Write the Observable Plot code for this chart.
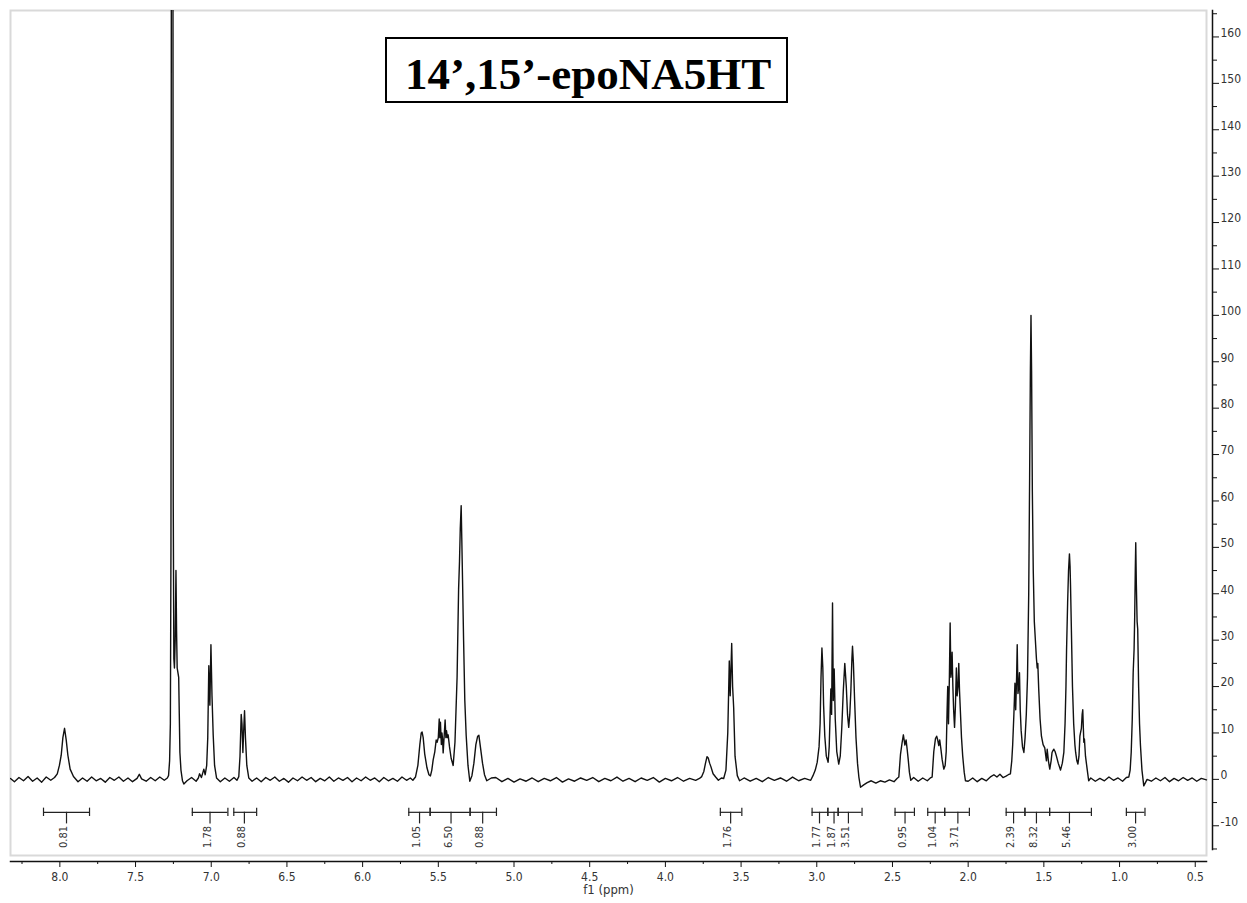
<!DOCTYPE html>
<html><head><meta charset="utf-8">
<script src="https://cdn.jsdelivr.net/npm/d3@7"></script>
<script src="https://cdn.jsdelivr.net/npm/@observablehq/plot@0.6"></script>
<style>
html,body{margin:0;padding:0;background:#fff;}
#wrap{position:relative;width:1247px;height:903px;overflow:hidden;background:#fff;}
#title{position:absolute;left:385px;top:37px;width:399px;height:62px;border:2px solid #000;background:#fff;font-family:"Liberation Serif","Times New Roman",serif;font-weight:bold;font-size:45px;color:#000;}
#title span{position:absolute;left:18px;top:13px;line-height:45px;white-space:nowrap;}
</style></head>
<body><div id="wrap"><div id="chart"></div><div id="title"><span>14’,15’-epoNA5HT</span></div></div>
<script>
// ---- spectrum trace: [ppm, intensity] ----
const segNH = [
[8.326,0.2],[8.30,-0.5],[8.27,0.4],[8.24,-0.3],[8.21,0.6],[8.18,-0.4],[8.15,0.3],[8.12,-0.6],[8.09,0.5],[8.06,-0.2],[8.035,0.4],
[8.017,1.2],[8.003,3],[7.991,5.2],[7.980,9],[7.969,11],[7.958,8.5],[7.947,5.2],[7.932,2.2],[7.910,0.6],
[7.88,-0.5],[7.85,0.3],[7.82,-0.4],[7.79,0.5],[7.76,-0.3],[7.73,0.2],[7.70,-0.6],[7.67,0.4],[7.64,-0.2],[7.61,0.5],[7.58,-0.4],[7.55,0.3],[7.52,-0.5],[7.49,0.2],[7.475,1.1],[7.46,0.1],[7.43,-0.4],[7.40,0.4],[7.37,-0.3],[7.34,0.5],[7.31,-0.2],[7.29,0.3]
];
const segAromatic = [
[7.282,0.8],[7.275,4],[7.270,12],[7.266,50],[7.262,250],[7.258,400],[7.254,250],[7.251,60],[7.247,26],[7.243,24],[7.238,30],[7.233,45],[7.229,32],[7.225,24],[7.220,23],[7.215,22],[7.211,14],[7.207,5.8],[7.200,2],[7.190,-0.3],[7.181,-1],
[7.16,-0.3],[7.13,0.4],[7.10,-0.4],[7.085,0.3],[7.077,1.2],[7.065,0.4],[7.055,1.5],[7.049,2.2],[7.040,1.0],[7.030,3],[7.023,9],[7.016,24.5],[7.009,16],[7.002,29],[6.995,18],[6.987,9.5],[6.978,3],[6.965,0.3],
[6.94,-0.5],[6.91,0.3],[6.88,-0.4],[6.85,0.4],[6.83,-0.2],[6.818,0.6],[6.810,5],[6.802,14],[6.797,12],[6.791,5.8],[6.785,11],[6.780,14.8],[6.774,9],[6.765,3],[6.752,0.3]
];
const segBase1 = [
[6.73,-0.4],[6.70,0.3],[6.67,-0.5],[6.64,0.4],[6.61,-0.2],[6.58,0.5],[6.55,-0.4],[6.52,0.2],[6.49,-0.6],[6.46,0.3],[6.43,-0.3],[6.40,0.5],[6.37,-0.2],[6.34,0.4],[6.31,-0.5],[6.28,0.2],[6.25,-0.3],[6.22,0.5],[6.19,-0.4],[6.16,0.3],[6.13,-0.2],[6.10,0.4],[6.07,-0.5],[6.04,0.3],[6.01,-0.3],[5.98,0.5],[5.95,-0.2],[5.92,0.3],[5.89,-0.5],[5.86,0.4],[5.83,-0.3],[5.80,0.2],[5.77,-0.4],[5.74,0.5],[5.71,-0.2],[5.685,0.3]
];
const segOlefin = [
[5.668,-0.2],[5.651,0.5],[5.635,3],[5.622,7.5],[5.613,10],[5.607,10.2],[5.600,9],[5.590,5.5],[5.575,2.5],[5.562,1],[5.552,0.75],[5.543,2],[5.534,4.2],[5.523,6],[5.514,8.5],[5.508,8],[5.500,9],[5.494,13],[5.490,9],[5.486,12.3],[5.480,7.5],[5.476,10],[5.472,8.7],[5.468,5.7],[5.461,9.5],[5.455,12.8],[5.450,9],[5.446,10.5],[5.440,9],[5.435,9.6],[5.426,7],[5.415,4.5],[5.402,3.0],[5.390,8],[5.376,22],[5.366,41],[5.360,47],[5.355,54],[5.349,59],[5.345,52],[5.340,43],[5.333,30],[5.325,17],[5.316,9.5],[5.304,3],[5.292,-0.4],[5.278,0.8],[5.265,3.5],[5.252,7.5],[5.240,9.3],[5.232,9.5],[5.222,7],[5.208,3.5],[5.195,1],[5.180,-0.3],[5.15,0.3]
];
const segBase2 = [
[5.12,0.4],[5.08,-0.5],[5.04,0.2],[5.00,-0.6],[4.96,0.1],[4.92,-0.4],[4.88,0.3],[4.84,-0.5],[4.80,0.2],[4.76,-0.3],[4.72,0.4],[4.68,-0.6],[4.64,0.1],[4.60,-0.4],[4.56,0.3],[4.52,-0.2],[4.48,0.4],[4.44,-0.5],[4.40,0.2],[4.36,-0.3],[4.32,0.5],[4.28,-0.4],[4.24,0.2],[4.20,-0.5],[4.16,0.3],[4.12,-0.2],[4.08,0.4],[4.04,-0.6],[4.00,0.2],[3.96,-0.3],[3.92,0.4],[3.88,-0.4],[3.84,0.2],[3.80,-0.2]
];
const segAmide = [
[3.775,0.2],[3.760,0.6],[3.746,1.7],[3.735,3.5],[3.725,4.9],[3.717,4.6],[3.708,3.5],[3.700,2.8],[3.685,1.2],[3.668,0.5],[3.650,-0.2],[3.630,0.3],[3.615,0.2],[3.600,2],[3.588,10],[3.578,25.5],[3.572,18],[3.562,29.3],[3.556,20],[3.549,15.5],[3.540,5],[3.525,0.8],[3.51,-0.3],
[3.48,0.3],[3.44,-0.4],[3.40,0.2],[3.36,-0.5],[3.32,0.4],[3.28,-0.2],[3.24,0.3],[3.20,-0.4],[3.16,0.5],[3.12,-0.3],[3.08,0.2],[3.04,-0.2]
];
const segBisallyl = [
[3.025,0.8],[3.010,2],[2.997,3.7],[2.985,7],[2.978,12],[2.972,22],[2.966,28.3],[2.960,24],[2.955,16],[2.947,9.3],[2.937,5],[2.925,3.7],[2.918,7],[2.912,14],[2.907,19.5],[2.902,14],[2.896,38],[2.891,17],[2.885,23.8],[2.878,13],[2.868,6],[2.855,3.3],[2.845,5],[2.835,11],[2.825,19],[2.815,25],[2.805,20],[2.797,14],[2.789,11.2],[2.782,14],[2.775,19],[2.768,26],[2.764,28.7],[2.758,25],[2.750,17],[2.741,9],[2.731,3.5],[2.722,0.5],[2.711,-1.7],[2.690,-1.2],[2.667,-0.7],
[2.64,-0.3],[2.61,-0.8],[2.58,-0.3],[2.55,-0.6],[2.52,-0.1],[2.49,-0.5],[2.47,0.2],[2.458,0.5],[2.447,5.4],[2.436,8],[2.428,9.6],[2.423,8.5],[2.418,7.4],[2.410,8.5],[2.403,6.5],[2.396,4.3],[2.388,1.5],[2.379,-0.2],
[2.36,0.4],[2.33,-0.4],[2.30,0.3],[2.27,-0.3],[2.25,0.3]
];
const segAllylic = [
[2.238,0.5],[2.227,6],[2.216,8.8],[2.208,9.3],[2.202,8.6],[2.194,7.3],[2.188,8.5],[2.180,6.5],[2.172,4.3],[2.161,2.2],[2.152,3],[2.145,6],[2.139,15],[2.135,20],[2.130,12],[2.124,22],[2.119,33.7],[2.114,22],[2.109,24],[2.106,27.4],[2.101,20],[2.096,15],[2.090,11.2],[2.084,16],[2.078,24],[2.073,18],[2.067,20],[2.062,25],[2.057,19],[2.051,14.4],[2.044,9],[2.036,5],[2.026,1.5],[2.018,-0.3],
[2.00,-0.4],[1.97,0.3],[1.94,-0.5],[1.91,0.2],[1.88,-0.3],[1.85,0.6],[1.83,1.0],[1.81,0.5],[1.79,1.1],[1.77,0.4],[1.75,0.7],[1.735,1.0]
];
const segAliphatic = [
[1.721,1.2],[1.712,4],[1.706,7.4],[1.698,14],[1.691,20.7],[1.686,15],[1.680,22],[1.676,29],[1.671,18.5],[1.666,20],[1.661,23],[1.656,15],[1.650,10.5],[1.641,7],[1.632,5.8],[1.624,9],[1.616,14],[1.608,22],[1.600,40],[1.594,65],[1.589,88],[1.585,100],[1.581,88],[1.576,62],[1.570,45],[1.563,34],[1.556,30],[1.549,26],[1.544,24],[1.540,25],[1.534,19.5],[1.525,13],[1.516,9.3],[1.505,7.5],[1.494,6.8],[1.487,5],[1.483,4],[1.478,6.5],[1.470,4],[1.461,2.2],[1.452,4],[1.446,5.8],[1.440,6.2],[1.434,6.5],[1.426,6],[1.417,5],[1.405,3.5],[1.390,2],[1.378,3.5],[1.368,5.8],[1.360,12],[1.354,20],[1.350,28],[1.343,38],[1.337,45],[1.331,48.6],[1.327,46],[1.324,42],[1.318,32],[1.311,20],[1.303,12],[1.295,7.5],[1.290,5.8],[1.282,4],[1.275,3.3],[1.268,5],[1.262,9.3],[1.258,10],[1.252,11],[1.247,14],[1.243,15],[1.239,11],[1.236,8],[1.232,8.7],[1.225,5],[1.214,2.2],[1.204,-0.3]
];
const segMethyl = [
[1.19,0.3],[1.16,-0.4],[1.13,0.2],[1.10,-0.3],[1.07,0.5],[1.04,-0.2],[1.01,0.3],[0.98,-0.4],[0.955,0.4],[0.939,0.5],[0.930,2],[0.923,5.8],[0.916,13],[0.910,23],[0.904,28],[0.900,35],[0.896,45],[0.893,51],[0.889,42],[0.884,34],[0.880,32.4],[0.874,20],[0.868,12],[0.862,7.4],[0.852,2],[0.840,-1.4],[0.818,0],
[0.79,-0.4],[0.76,0.3],[0.73,-0.3],[0.70,0.4],[0.67,-0.5],[0.64,0.2],[0.61,-0.3],[0.58,0.4],[0.55,-0.2],[0.52,0.3],[0.49,-0.4],[0.46,0.2],[0.426,-0.1]
];

// ---- integrals ----
const intFrom  = [8.108, 7.125, 6.851, 5.695, 5.554, 5.290, 3.637, 3.031, 2.927, 2.859, 2.483, 2.267, 2.155, 1.749, 1.625, 1.462, 0.955];
const intTo    = [7.804, 6.890, 6.700, 5.554, 5.290, 5.116, 3.495, 2.927, 2.859, 2.701, 2.355, 2.155, 1.992, 1.625, 1.462, 1.186, 0.832];
const intMark  = [7.956, 7.008, 6.781, 5.624, 5.416, 5.207, 3.569, 2.982, 2.886, 2.791, 2.417, 2.218, 2.068, 1.700, 1.549, 1.331, 0.894];
const intLabel = ["0.81","1.78","0.88","1.05","6.50","0.88","1.76","1.77","1.87","3.51","0.95","1.04","3.71","2.39","8.32","5.46","3.00"];

// ---- axis ticks ----
const xMajor = [8.0,7.5,7.0,6.5,6.0,5.5,5.0,4.5,4.0,3.5,3.0,2.5,2.0,1.5,1.0,0.5];
const xMinor = [8.25,7.75,7.25,6.75,6.25,5.75,5.25,4.75,4.25,3.75,3.25,2.75,2.25,1.75,1.25,0.75];
const yMajor = [160,150,140,130,120,110,100,90,80,70,60,50,40,30,20,10,0,-10];
const yMinor = [165,155,145,135,125,115,105,95,85,75,65,55,45,35,25,15,5,-5,-15];

const spectrum = [].concat(segNH, segAromatic, segBase1, segOlefin, segBase2, segAmide, segBisallyl, segAllylic, segAliphatic, segMethyl)
  .map(([ppm, v]) => ({ppm, v}));
const integrals = intFrom.map((f, i) => ({from: f, to: intTo[i], mark: intMark[i], label: intLabel[i]}));
const caps = integrals.flatMap(d => [d.from, d.to]);

// layout constants (data units on the intensity scale)
const BR = -7.1, CAP_T = -6.2, CAP_B = -8.0, MARK_B = -9.6, LAB = -12.4;
const font = "'DejaVu Sans Condensed','DejaVu Sans',sans-serif";

const chart = Plot.plot({
  width: 1247, height: 903,
  marginLeft: 10, marginRight: 35, marginTop: 10, marginBottom: 42,
  x: {domain: [8.326, 0.386]},
  y: {domain: [-17.7, 165.7]},
  style: {fontFamily: font, fontSize: "12px", color: "#222", background: "#fff"},
  marks: [
    Plot.frame({stroke: "#d9d9d9", strokeWidth: 2, insetRight: 6, insetBottom: 6}),
    Plot.line(spectrum, {x: "ppm", y: "v", stroke: "#111", strokeWidth: 1.4, clip: true}),
    Plot.ruleY(integrals, {x1: "from", x2: "to", y: () => BR, stroke: "#222", strokeWidth: 1.2}),
    Plot.ruleX(caps, {x: d => d, y1: () => CAP_T, y2: () => CAP_B, stroke: "#222", strokeWidth: 1.2}),
    Plot.ruleX(integrals, {x: "mark", y1: () => BR, y2: () => MARK_B, stroke: "#222", strokeWidth: 1.2}),
    Plot.text(integrals, {x: "mark", y: () => LAB, dx: -3, text: "label", rotate: -90, fontSize: 11, fill: "#333"}),
    Plot.axisX(xMajor, {anchor: "bottom", tickSize: 6, tickPadding: 5, tickFormat: d => d.toFixed(1), label: null, fill: "#333", stroke: "#111"}),
    Plot.axisX(xMinor, {anchor: "bottom", tickSize: 3, tickFormat: () => "", label: null, stroke: "#111"}),
    Plot.frame({anchor: "bottom", insetRight: 6, stroke: "#111", strokeWidth: 1.5}),
    Plot.axisY(yMajor, {anchor: "right", tickSize: 6, tickFormat: () => "", label: null, stroke: "#111"}),
    Plot.axisY(yMinor, {anchor: "right", tickSize: 4, tickFormat: () => "", label: null, stroke: "#111"}),
    Plot.frame({anchor: "right", insetBottom: 12, stroke: "#111", strokeWidth: 1.5}),
    Plot.text(yMajor, {y: d => d, frameAnchor: "right", dx: 8, dy: -4, textAnchor: "start", text: d => String(d), fill: "#333"}),
    Plot.text(["f1 (ppm)"], {frameAnchor: "bottom", dx: -3, dy: 23, lineAnchor: "top", fontSize: 13, fill: "#333"})
  ]
});
document.getElementById("chart").appendChild(chart);
</script>
</body></html>
